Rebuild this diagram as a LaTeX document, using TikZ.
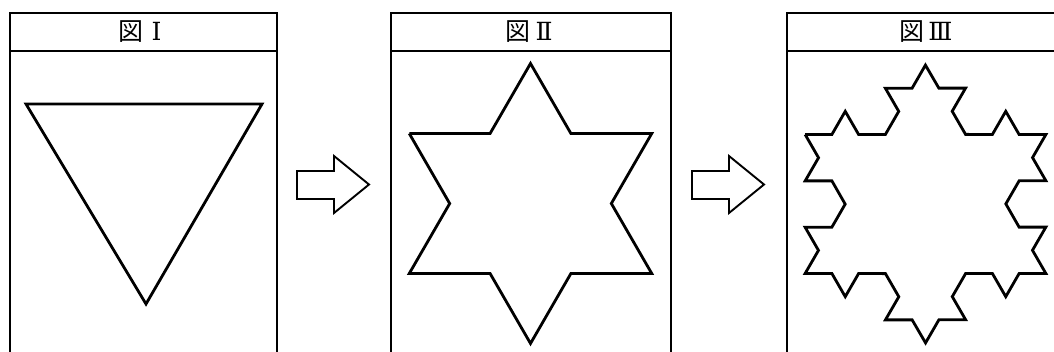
\documentclass[tikz,border=0pt]{standalone}
\usepackage{fontspec}
\newfontfamily\jpfont{Noto Sans CJK JP}
\newfontfamily\numfont{DejaVu Serif}
\usetikzlibrary{decorations.fractals}
\begin{document}
\begin{tikzpicture}[x=1pt,y=-1pt,
  frame/.style={line width=2.8pt},
  figline/.style={line width=2.8pt, line join=miter},
  blockarrow/.style={line width=1.9pt, line join=miter},
  title/.style={font=\jpfont\fontsize{25}{25}\selectfont, inner sep=0pt, anchor=center}]
\useasboundingbox (0,0) rectangle (1054,352);
\clip (0,0) rectangle (1054,352);
% panels
\foreach \l/\r in {10/277, 391/671, 787/1067} {
  \draw[frame] (\l,362) -- (\l,13) -- (\r,13) -- (\r,362);
  \draw[frame] (\l,51) -- (\r,51);
}
% titles
\node[title] (t1) at (140,32) {図\hspace{8pt}{\numfont Ⅰ}};
\node[title] (t2) at (529,32) {図\hspace{5pt}{\numfont Ⅱ}};
\node[title] (t3) at (926,32) {図\hspace{4pt}{\numfont Ⅲ}};
% figure I: triangle
\coordinate (a1) at (26,104);
\coordinate (b1) at (262,104);
\coordinate (c1) at (146,304);
\draw[figline] (a1) -- (b1) -- (c1) -- cycle;
% figure II: star (one Koch step)
\coordinate (a2) at (409.26,133.5);
\coordinate (b2) at (651.74,133.5);
\coordinate (c2) at (530.5,343.5);
\draw[figline] decorate[decoration=Koch snowflake]{(a2) -- (b2) -- (c2) -- cycle};
% figure III: Koch snowflake (two steps)
\coordinate (a3) at (805.12,134.5);
\coordinate (b3) at (1045.88,134.5);
\coordinate (c3) at (925.5,343);
\draw[figline] decorate[decoration=Koch snowflake]{decorate[decoration=Koch snowflake]{(a3) -- (b3) -- (c3) -- cycle}};
% block arrows
\draw[blockarrow] (297,171) -- (334,171) -- (334,156) -- (369,184.5) -- (334,213) -- (334,199) -- (297,199) -- cycle;
\draw[blockarrow] (692,171) -- (729,171) -- (729,156) -- (764,184.5) -- (729,213) -- (729,199) -- (692,199) -- cycle;
\end{tikzpicture}
\end{document}
